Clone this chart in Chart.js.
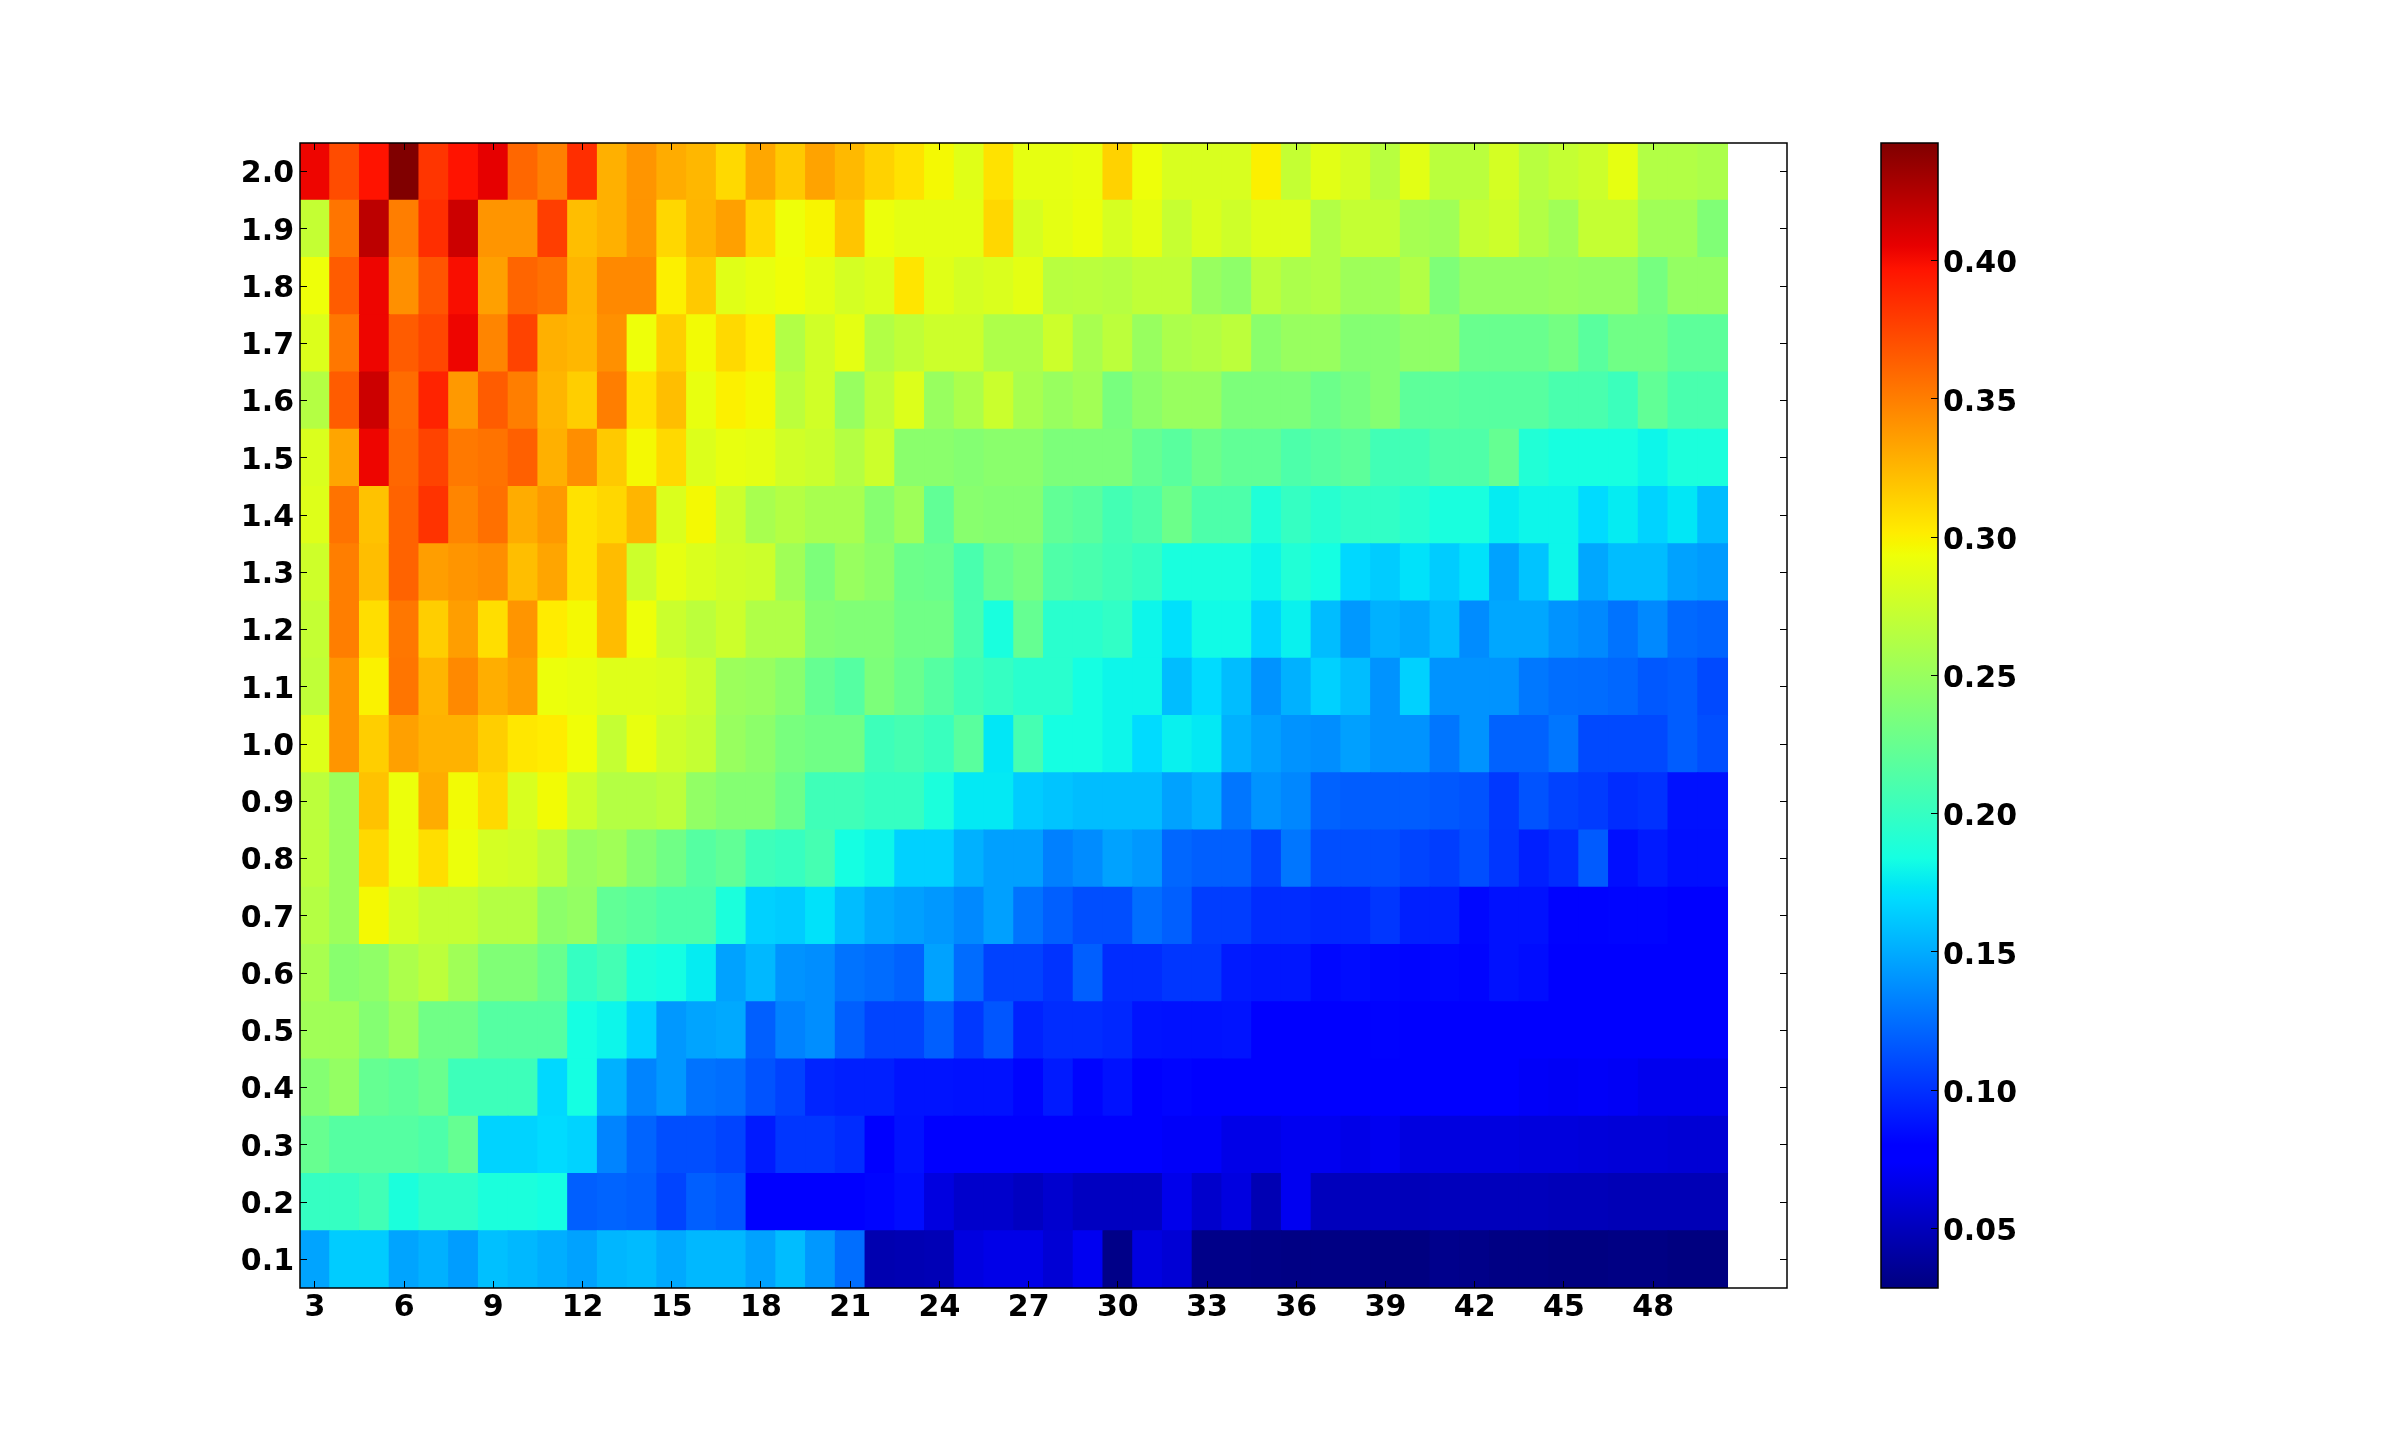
<!DOCTYPE html>
<html>
<head>
<meta charset="utf-8">
<style>
  html, body { margin: 0; background: #fff; }
  canvas { position: absolute; top: 0; }
  #heat { left: 0; }
  #bar { left: 1840px; }
</style>
<script src="https://cdn.jsdelivr.net/npm/chart.js@4/dist/chart.umd.min.js"></script>
</head>
<body>
<canvas id="heat" width="1840" height="1432"></canvas>
<canvas id="bar" width="300" height="1432"></canvas>
<script>
// Heatmap values, one list per row, columns 3..50
const columns = [3,4,5,6,7,8,9,10,11,12,13,14,15,16,17,18,19,20,21,22,23,24,25,26,27,28,29,30,31,32,33,34,35,36,37,38,39,40,41,42,43,44,45,46,47,48,49,50];
const rowLabels = [0.1,0.2,0.3,0.4,0.5,0.6,0.7,0.8,0.9,1.0,1.1,1.2,1.3,1.4,1.5,1.6,1.7,1.8,1.9,2.0];
const xTicks = [3,6,9,12,15,18,21,24,27,30,33,36,39,42,45,48];
const barTicks = [0.05,0.10,0.15,0.20,0.25,0.30,0.35,0.40];
const vMin = 0.0285;
const vMax = 0.4425;

const r01 = [.147,.163,.163,.147,.152,.144,.158,.155,.151,.146,.154,.156,.149,.155,.155,.146,.157,.142,.125,.046,.047,.048,.063,.066,.066,.059,.069,.0315,.063,.059,.032,.032,.031,.030,.030,.030,.029,.029,.033,.032,.030,.030,.029,.029,.030,.030,.0285,.0285];
const r02 = [.200,.200,.206,.187,.196,.196,.187,.187,.184,.119,.121,.119,.108,.119,.115,.078,.078,.078,.078,.082,.085,.063,.056,.056,.052,.057,.052,.052,.052,.067,.056,.063,.047,.069,.050,.050,.050,.049,.050,.050,.050,.050,.049,.049,.048,.048,.048,.048];
const r03 = [.225,.216,.216,.216,.212,.224,.166,.166,.169,.166,.134,.121,.112,.112,.108,.091,.102,.102,.098,.080,.087,.078,.078,.080,.076,.076,.076,.076,.076,.072,.072,.066,.066,.069,.069,.066,.069,.063,.063,.063,.063,.062,.062,.061,.060,.060,.059,.059];
const r04 = [.240,.248,.224,.220,.226,.204,.204,.204,.168,.184,.152,.134,.142,.127,.125,.114,.107,.095,.093,.093,.088,.088,.087,.087,.082,.091,.082,.087,.079,.082,.078,.078,.078,.078,.078,.078,.078,.078,.078,.078,.078,.072,.071,.072,.071,.068,.068,.068];
const r05 = [.254,.254,.240,.252,.230,.230,.216,.216,.216,.184,.180,.166,.142,.147,.149,.119,.133,.138,.119,.108,.108,.119,.103,.115,.094,.098,.098,.096,.088,.087,.087,.088,.079,.079,.077,.077,.081,.079,.078,.077,.077,.077,.077,.077,.077,.076,.076,.076];
const r06 = [.258,.242,.246,.260,.268,.254,.238,.238,.226,.200,.207,.187,.184,.176,.146,.155,.140,.138,.127,.124,.120,.146,.124,.107,.107,.101,.119,.098,.098,.102,.102,.091,.089,.089,.083,.085,.083,.082,.083,.082,.087,.085,.079,.078,.080,.077,.076,.076];
const r07 = [.264,.252,.296,.281,.272,.272,.264,.264,.244,.248,.222,.218,.212,.212,.187,.165,.163,.172,.157,.149,.145,.142,.136,.145,.127,.119,.112,.112,.125,.119,.105,.105,.098,.098,.096,.096,.102,.093,.093,.083,.087,.087,.081,.081,.082,.082,.079,.079];
const r08 = [.268,.252,.310,.292,.308,.292,.280,.278,.268,.250,.254,.240,.230,.216,.222,.204,.201,.208,.184,.180,.165,.165,.152,.145,.145,.132,.137,.146,.142,.122,.119,.119,.108,.128,.112,.112,.112,.108,.105,.112,.102,.093,.098,.117,.086,.091,.086,.086];
const r09 = [.268,.252,.320,.292,.330,.295,.310,.282,.295,.276,.264,.264,.268,.247,.240,.240,.228,.205,.205,.200,.200,.187,.175,.175,.163,.160,.157,.157,.157,.146,.152,.128,.140,.135,.120,.118,.118,.118,.116,.114,.103,.114,.107,.104,.098,.100,.087,.087];
const r10 = [.285,.340,.315,.335,.327,.327,.315,.304,.302,.294,.272,.290,.277,.272,.250,.244,.234,.230,.230,.204,.208,.202,.218,.174,.208,.184,.184,.180,.169,.178,.175,.152,.145,.140,.138,.145,.140,.140,.128,.140,.120,.120,.128,.110,.110,.110,.118,.112];
const r11 = [.270,.340,.299,.354,.326,.345,.329,.336,.292,.290,.285,.285,.283,.275,.252,.250,.242,.224,.216,.236,.226,.216,.205,.200,.194,.194,.184,.180,.180,.157,.169,.157,.140,.152,.165,.157,.140,.165,.140,.140,.140,.129,.125,.124,.122,.116,.118,.110];
const r12 = [.272,.350,.308,.353,.315,.336,.308,.340,.302,.296,.323,.293,.275,.268,.276,.262,.262,.240,.238,.238,.230,.230,.210,.186,.224,.194,.194,.198,.180,.171,.182,.182,.166,.178,.157,.142,.152,.148,.157,.137,.148,.148,.140,.136,.127,.136,.123,.121];
const r13 = [.277,.350,.322,.362,.336,.340,.343,.322,.333,.306,.323,.276,.289,.283,.278,.276,.254,.236,.250,.244,.228,.226,.210,.226,.233,.213,.210,.205,.200,.186,.186,.186,.180,.190,.184,.168,.163,.172,.163,.172,.146,.160,.180,.148,.157,.157,.146,.143];
const r14 = [.285,.355,.320,.362,.383,.347,.356,.330,.338,.306,.311,.326,.283,.296,.276,.258,.264,.258,.258,.241,.253,.222,.242,.240,.240,.222,.218,.207,.213,.228,.212,.212,.189,.200,.193,.198,.198,.193,.186,.186,.176,.180,.180,.169,.176,.166,.174,.157];
const r15 = [.283,.333,.403,.360,.376,.352,.355,.363,.328,.343,.317,.296,.310,.284,.290,.288,.278,.275,.264,.276,.243,.243,.240,.243,.243,.236,.236,.236,.224,.218,.228,.222,.222,.212,.216,.220,.206,.206,.213,.213,.224,.190,.185,.185,.185,.180,.187,.187];
const r16 = [.264,.365,.415,.358,.390,.338,.365,.350,.326,.315,.350,.306,.322,.290,.300,.296,.268,.278,.250,.270,.284,.250,.260,.275,.258,.250,.255,.234,.244,.250,.250,.236,.236,.236,.228,.233,.240,.220,.220,.217,.217,.217,.210,.210,.203,.222,.210,.210];
const r17 = [.284,.353,.403,.365,.374,.403,.347,.376,.328,.325,.342,.293,.315,.295,.310,.301,.263,.278,.288,.263,.270,.276,.276,.261,.261,.276,.258,.268,.250,.260,.263,.268,.243,.250,.250,.240,.240,.246,.246,.226,.226,.226,.232,.218,.230,.230,.220,.220];
const r18 = [.293,.365,.403,.342,.368,.399,.335,.361,.356,.326,.345,.345,.300,.317,.286,.290,.294,.288,.280,.284,.305,.286,.280,.283,.288,.266,.267,.265,.270,.270,.250,.245,.268,.260,.263,.253,.253,.263,.237,.248,.248,.248,.250,.248,.248,.233,.248,.248];
const r19 = [.272,.354,.421,.350,.385,.415,.340,.340,.378,.322,.328,.340,.311,.326,.335,.310,.293,.298,.319,.292,.288,.288,.288,.311,.281,.288,.292,.281,.288,.273,.283,.277,.285,.285,.263,.272,.272,.257,.254,.272,.276,.263,.254,.272,.272,.254,.254,.238];
const r20 = [.403,.372,.397,.4425,.382,.397,.406,.360,.349,.385,.328,.340,.330,.325,.310,.332,.317,.334,.324,.313,.306,.296,.286,.306,.289,.289,.291,.313,.293,.282,.282,.282,.300,.272,.287,.280,.266,.287,.267,.267,.280,.266,.272,.276,.289,.263,.263,.260];

const heatRows = [r01,r02,r03,r04,r05,r06,r07,r08,r09,r10,r11,r12,r13,r14,r15,r16,r17,r18,r19,r20];

// jet colormap breakpoints
const jetR = [[0,0],[.35,0],[.66,1],[.89,1],[1,.5]];
const jetG = [[0,0],[.125,0],[.375,1],[.64,1],[.91,0],[1,0]];
const jetB = [[0,.5],[.11,1],[.34,1],[.65,0],[1,0]];
const jetPositions = [0,.11,.125,.34,.35,.375,.64,.65,.66,.89,.91,1];

function channel(stops, t) {
    for (let i = 1; i < stops.length; i++) {
        if (t <= stops[i][0]) {
            const f = (t - stops[i-1][0]) / (stops[i][0] - stops[i-1][0]);
            return Math.round(255 * (stops[i-1][1] + f * (stops[i][1] - stops[i-1][1])));
        }
    }
    return Math.round(255 * stops[stops.length-1][1]);
}

function jet(t) {
    return `rgb(${channel(jetR, t)},${channel(jetG, t)},${channel(jetB, t)})`;
}

function valueColor(v) {
    return jet(Math.min(1, Math.max(0, (v - vMin) / (vMax - vMin))));
}

const tickFont = { family: '"DejaVu Sans"', size: 30, weight: 'bold' };
const halfRow = 0.05;

// Inward tick marks, the four axes share this
function tickAxis(position, min, max, values, format, padding, size, labelOffset) {
    return {
        type: 'linear',
        position: position,
        min: min,
        max: max,
        offset: false,
        border: { display: false },
        grid: { offset: false, drawOnChartArea: false, tickLength: -7, tickColor: '#000', tickWidth: 1, z: 1 },
        ticks: {
            display: format !== null,
            autoSkip: false,
            includeBounds: false,
            maxRotation: 0,
            padding: padding,
            labelOffset: labelOffset || 0,
            color: '#000',
            font: tickFont,
            callback: v => format ? format(v) : ''
        },
        afterBuildTicks: scale => { scale.ticks = values.map(v => ({ value: v })); },
        afterFit: scale => {
            if (scale.isHorizontal()) scale.height = size; else scale.width = size;
        }
    };
}

const framePlugin = {
    id: 'frame',
    afterDraw(chart) {
        const a = chart.chartArea;
        const c = chart.ctx;
        c.save();
        c.strokeStyle = '#000';
        c.lineWidth = 1.5;
        c.strokeRect(a.left, a.top, a.right - a.left, a.bottom - a.top);
        c.restore();
    }
};

new Chart(document.getElementById('heat'), {
    type: 'bar',
    data: {
        labels: columns,
        datasets: heatRows.map((row, i) => ({
            data: row.map(() => [rowLabels[i] - halfRow, rowLabels[i] + halfRow]),
            backgroundColor: row.map(valueColor),
            borderWidth: 0,
            inflateAmount: 0.5,
            grouped: false,
            barPercentage: 1,
            categoryPercentage: 1
        }))
    },
    options: {
        responsive: false,
        animation: false,
        layout: { padding: { left: 230, right: 53, top: 143, bottom: 88 } },
        plugins: { legend: { display: false }, tooltip: { enabled: false } },
        scales: {
            x: tickAxis('bottom', 2.5, 52.5, xTicks, v => String(v), 9, 56),
            x2: tickAxis('top', 2.5, 52.5, xTicks, null, 0, 0),
            y: tickAxis('left', 0.05, 2.05, rowLabels, v => v.toFixed(1), 13, 70, 3),
            y2: tickAxis('right', 0.05, 2.05, rowLabels, null, 0, 0)
        }
    },
    plugins: [framePlugin]
});

// Colour bar
new Chart(document.getElementById('bar'), {
    type: 'bar',
    data: {
        labels: [''],
        datasets: [{
            data: [[vMin, vMax]],
            backgroundColor(ctx) {
                const a = ctx.chart.chartArea;
                if (!a) return '#000';
                const g = ctx.chart.ctx.createLinearGradient(0, a.bottom, 0, a.top);
                jetPositions.forEach(p => g.addColorStop(p, jet(p)));
                return g;
            },
            borderWidth: 0,
            barPercentage: 1,
            categoryPercentage: 1
        }]
    },
    options: {
        responsive: false,
        animation: false,
        layout: { padding: { left: 41, right: 10, top: 143, bottom: 144 } },
        plugins: { legend: { display: false }, tooltip: { enabled: false } },
        scales: {
            x: { display: false },
            y: tickAxis('right', vMin, vMax, barTicks, v => v.toFixed(2), 12, 192, 4)
        }
    },
    plugins: [framePlugin]
});
</script>
</body>
</html>
